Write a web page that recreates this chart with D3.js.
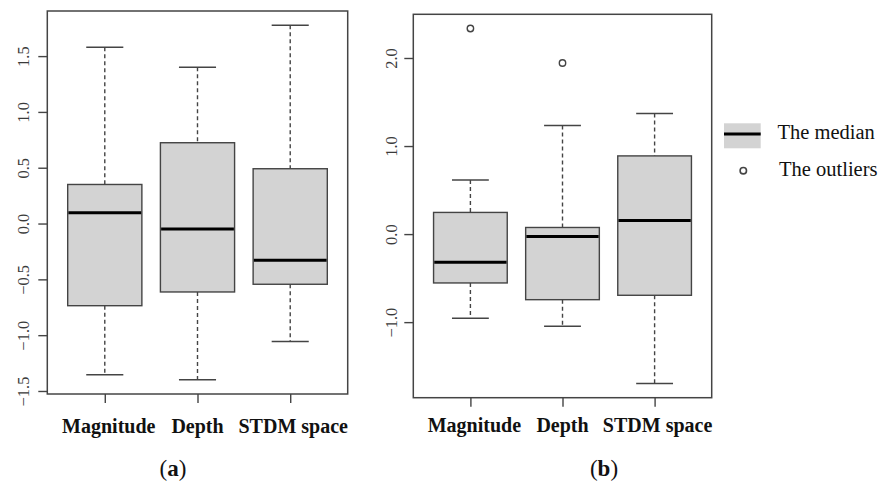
<!DOCTYPE html>
<html>
<head>
<meta charset="utf-8">
<script src="https://cdn.jsdelivr.net/npm/d3@7/dist/d3.min.js"></script>
<style>
  html, body { margin: 0; padding: 0; background: #fff; }
  svg { display: block; }
</style>
</head>
<body>
<svg id="chart" width="882" height="485"></svg>
<script>
// Categories shared by both panels
const categories = ["Magnitude", "Depth", "STDM space"];

// Panel (a): five-number summaries per category
const aLowerWhisker = [-1.355, -1.40, -1.056];
const aQ1           = [-0.736, -0.613, -0.544];
const aMedian       = [0.096, -0.048, -0.329];
const aQ3           = [0.350, 0.724, 0.491];
const aUpperWhisker = [1.580, 1.400, 1.777];
const aOutliers     = [[], [], []];
const aTicks        = [-1.5, -1.0, -0.5, 0.0, 0.5, 1.0, 1.5];

// Panel (b)
const bLowerWhisker = [-0.957, -1.048, -1.697];
const bQ1           = [-0.555, -0.745, -0.695];
const bMedian       = [-0.319, -0.027, 0.155];
const bQ3           = [0.246, 0.075, 0.888];
const bUpperWhisker = [0.615, 1.233, 1.370];
const bOutliers     = [[2.335], [1.943], []];
const bTicks        = [-1.0, 0.0, 1.0, 2.0];

// Legend entries
const legendLabels = ["The median", "The outliers"];
const captions = ["a", "b"];

const svg = d3.select("#chart");
const tickFont = "'Liberation Serif', serif";
const textFont = "'Liberation Serif', 'Times New Roman', serif";
const lineCol = "#444";

function drawPanel(cfg) {
  const { left, right, top, bottom, lo, q1, med, q3, hi, outs, ticks, labelX, catBaseline, caption, captionX } = cfg;
  const g = svg.append("g");

  // y range padded by 4% like base graphics
  const all = lo.concat(hi, outs.flat());
  const mn = d3.min(all), mx = d3.max(all);
  const pad = (mx - mn) * 0.04;
  const y = d3.scaleLinear().domain([mn - pad, mx + pad]).range([bottom, top]);
  const n = categories.length;
  const x = d3.scaleLinear().domain([0.5 - 0.04 * n, n + 0.5 + 0.04 * n]).range([left, right]);
  const boxW = x(1.4) - x(1.0);
  const capW = x(1.2) - x(1.0);

  const rows = categories.map((c, i) => ({
    c, i: i + 1, lo: lo[i], q1: q1[i], med: med[i], q3: q3[i], hi: hi[i], outs: outs[i]
  }));

  const bx = g.selectAll("g.box").data(rows).join("g").attr("class", "box");

  // dashed whiskers
  bx.append("line")
    .attr("x1", d => x(d.i)).attr("x2", d => x(d.i))
    .attr("y1", d => y(d.hi)).attr("y2", d => y(d.q3))
    .attr("stroke", lineCol).attr("stroke-width", 1.4).attr("stroke-dasharray", "4,3");
  bx.append("line")
    .attr("x1", d => x(d.i)).attr("x2", d => x(d.i))
    .attr("y1", d => y(d.q1)).attr("y2", d => y(d.lo))
    .attr("stroke", lineCol).attr("stroke-width", 1.4).attr("stroke-dasharray", "4,3");
  // staples
  ["hi", "lo"].forEach(k => {
    bx.append("line")
      .attr("x1", d => x(d.i) - capW).attr("x2", d => x(d.i) + capW)
      .attr("y1", d => y(d[k])).attr("y2", d => y(d[k]))
      .attr("stroke", lineCol).attr("stroke-width", 1.5);
  });
  // boxes
  bx.append("rect")
    .attr("x", d => x(d.i) - boxW).attr("width", 2 * boxW)
    .attr("y", d => y(d.q3)).attr("height", d => y(d.q1) - y(d.q3))
    .attr("fill", "#d3d3d3").attr("stroke", lineCol).attr("stroke-width", 1.4);
  // medians
  bx.append("line")
    .attr("x1", d => x(d.i) - boxW + 0.7).attr("x2", d => x(d.i) + boxW - 0.7)
    .attr("y1", d => y(d.med)).attr("y2", d => y(d.med))
    .attr("stroke", "#000").attr("stroke-width", 3);
  // outliers
  bx.selectAll("circle").data(d => d.outs.map(v => ({ i: d.i, v }))).join("circle")
    .attr("cx", d => x(d.i)).attr("cy", d => y(d.v)).attr("r", 3.2)
    .attr("fill", "none").attr("stroke", lineCol).attr("stroke-width", 1.4);

  // frame
  g.append("rect").attr("x", left).attr("y", top)
    .attr("width", right - left).attr("height", bottom - top)
    .attr("fill", "none").attr("stroke", lineCol).attr("stroke-width", 1.5);

  // y axis
  const ya = g.append("g").attr("transform", `translate(${left},0)`)
    .call(d3.axisLeft(y).tickValues(ticks).tickSize(9).tickFormat(d3.format(".1f")));
  ya.select(".domain").remove();
  ya.selectAll(".tick line").attr("stroke", lineCol).attr("stroke-width", 1.4);
  ya.selectAll(".tick text")
    .attr("x", 0).attr("dy", null)
    .attr("transform", `translate(${labelX - left},0) rotate(-90)`)
    .attr("text-anchor", "middle").attr("dominant-baseline", "central")
    .attr("font-family", tickFont).attr("font-size", 16.5).attr("fill", "#3a3a3a");

  // x axis ticks
  const xa = g.append("g").attr("transform", `translate(0,${bottom})`)
    .call(d3.axisBottom(x).tickValues(d3.range(1, n + 1)).tickSize(9).tickFormat(""));
  xa.select(".domain").remove();
  xa.selectAll(".tick line").attr("stroke", lineCol).attr("stroke-width", 1.4);

  // category labels
  g.selectAll("text.cat").data(rows).join("text").attr("class", "cat")
    .attr("x", d => x(d.i) + (d.i === 1 ? 4 : d.i === 3 ? 3 : 0)).attr("y", catBaseline)
    .attr("text-anchor", "middle")
    .attr("font-family", textFont).attr("font-weight", "bold").attr("font-size", 20)
    .attr("fill", "#111").text(d => d.c);

  // panel caption
  const cap = g.append("text").attr("x", captionX).attr("y", 476)
    .attr("text-anchor", "middle").attr("font-family", textFont).attr("font-size", 23).attr("fill", "#111");
  cap.append("tspan").text("(");
  cap.append("tspan").attr("font-weight", "bold").text(caption);
  cap.append("tspan").text(")");
}

drawPanel({
  left: 47.3, right: 347.7, top: 11, bottom: 394,
  lo: aLowerWhisker, q1: aQ1, med: aMedian, q3: aQ3, hi: aUpperWhisker, outs: aOutliers,
  ticks: aTicks, labelX: 23, catBaseline: 433, caption: captions[0], captionX: 173
});
drawPanel({
  left: 413.3, right: 711.7, top: 14.3, bottom: 397.7,
  lo: bLowerWhisker, q1: bQ1, med: bMedian, q3: bQ3, hi: bUpperWhisker, outs: bOutliers,
  ticks: bTicks, labelX: 391, catBaseline: 432, caption: captions[1], captionX: 604
});

// legend
const lg = svg.append("g");
lg.append("rect").attr("x", 724).attr("y", 123.3).attr("width", 36.7).attr("height", 25)
  .attr("fill", "#d3d3d3");
lg.append("line").attr("x1", 724).attr("x2", 760.7).attr("y1", 134).attr("y2", 134)
  .attr("stroke", "#000").attr("stroke-width", 3);
lg.append("circle").attr("cx", 743.3).attr("cy", 170.7).attr("r", 3.2)
  .attr("fill", "none").attr("stroke", lineCol).attr("stroke-width", 1.6);
lg.selectAll("text").data(legendLabels).join("text")
  .attr("x", (d, i) => i === 0 ? 777.5 : 779)
  .attr("y", (d, i) => i === 0 ? 139 : 176)
  .attr("font-family", textFont).attr("font-size", 20.5).attr("fill", "#111")
  .text(d => d);
</script>
</body>
</html>
